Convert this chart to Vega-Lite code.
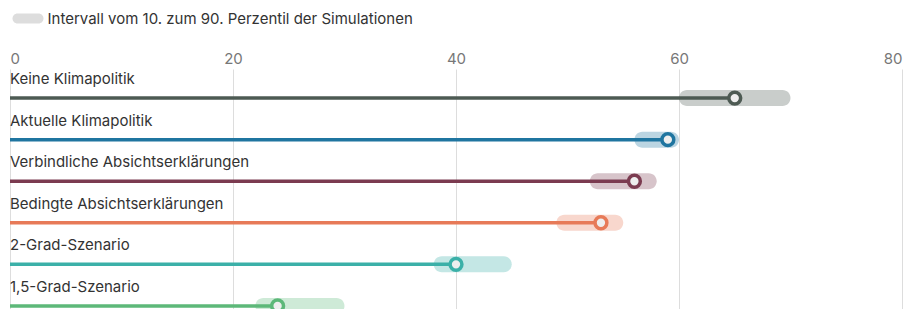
{
  "$schema": "https://vega.github.io/schema/vega-lite/v6.json",
  "width": 892,
  "height": 266,
  "padding": {"left": 8, "top": 11, "right": 3, "bottom": 0},
  "background": "white",
  "config": {
    "view": {"stroke": null},
    "font": "Inter",
    "axis": {"labelFont": "Inter", "titleFont": "Inter"},
    "legend": {"labelFont": "Inter"}
  },
  "data": {
    "values": [
      {"scenario": "Keine Klimapolitik", "median": 65, "lo": 60, "hi": 70},
      {"scenario": "Aktuelle Klimapolitik", "median": 59, "lo": 56, "hi": 60},
      {"scenario": "Verbindliche Absichtserklärungen", "median": 56, "lo": 52, "hi": 58},
      {"scenario": "Bedingte Absichtserklärungen", "median": 53, "lo": 49, "hi": 55},
      {"scenario": "2-Grad-Szenario", "median": 40, "lo": 38, "hi": 45},
      {"scenario": "1,5-Grad-Szenario", "median": 24, "lo": 22, "hi": 30}
    ]
  },
  "encoding": {
    "y": {
      "field": "scenario",
      "type": "nominal",
      "sort": null,
      "scale": {"type": "point", "padding": 0.7},
      "axis": null
    },
    "color": {
      "field": "scenario",
      "type": "nominal",
      "sort": null,
      "scale": {
        "domain": ["Keine Klimapolitik", "Aktuelle Klimapolitik", "Verbindliche Absichtserklärungen", "Bedingte Absichtserklärungen", "2-Grad-Szenario", "1,5-Grad-Szenario"],
        "range": ["#4d5a53", "#1f75a0", "#7b3b50", "#e77a58", "#3bb0a8", "#5db879"]
      },
      "legend": null
    }
  },
  "layer": [
    {
      "mark": {"type": "bar", "height": 16, "cornerRadius": 8, "fillOpacity": 0.3},
      "encoding": {
        "x": {
          "field": "lo",
          "type": "quantitative",
          "scale": {"domain": [0, 80], "nice": false},
          "axis": {
            "orient": "top",
            "values": [0, 20, 40, 60, 80],
            "title": null,
            "domain": false,
            "ticks": false,
            "grid": true,
            "gridColor": "#dddddd",
            "gridWidth": 1,
            "labelColor": "#777777",
            "labelFontSize": 15,
            "labelPadding": 3,
            "labelFlush": true
          }
        },
        "x2": {"field": "hi"},
        "opacity": {
          "datum": "Intervall vom 10. zum 90. Perzentil der Simulationen",
          "scale": {"range": [1]},
          "legend": {
            "title": null,
            "orient": "top",
            "offset": 24,
            "symbolType": "M-2.1,-1 L2.1,-1 A1,1 0 0 1 2.1,1 L-2.1,1 A1,1 0 0 1 -2.1,-1 Z",
            "symbolSize": 100,
            "symbolOffset": 10.5,
            "symbolFillColor": "#dddddd",
            "symbolStrokeWidth": 0,
            "labelFontSize": 15,
            "labelColor": "#333333",
            "labelOffset": 12,
            "labelLimit": 600
          }
        }
      }
    },
    {
      "mark": {"type": "rule", "strokeWidth": 3.5},
      "encoding": {
        "x": {"field": "median", "type": "quantitative"},
        "x2": {"datum": 0}
      }
    },
    {
      "mark": {"type": "point", "shape": "circle", "filled": false, "fill": "#eeeeee", "fillOpacity": 1, "strokeWidth": 3.5, "size": 140, "opacity": 1},
      "encoding": {
        "x": {"field": "median", "type": "quantitative"},
        "stroke": {"field": "scenario", "type": "nominal", "sort": null, "scale": {
          "domain": ["Keine Klimapolitik", "Aktuelle Klimapolitik", "Verbindliche Absichtserklärungen", "Bedingte Absichtserklärungen", "2-Grad-Szenario", "1,5-Grad-Szenario"],
          "range": ["#4d5a53", "#1f75a0", "#7b3b50", "#e77a58", "#3bb0a8", "#5db879"]
        }, "legend": null}
      }
    },
    {
      "mark": {"type": "text", "align": "left", "baseline": "middle", "dy": -19, "fontSize": 15, "color": "#333333"},
      "encoding": {
        "x": {"datum": 0},
        "text": {"field": "scenario"},
        "color": {"value": "#333333"}
      }
    }
  ]
}
